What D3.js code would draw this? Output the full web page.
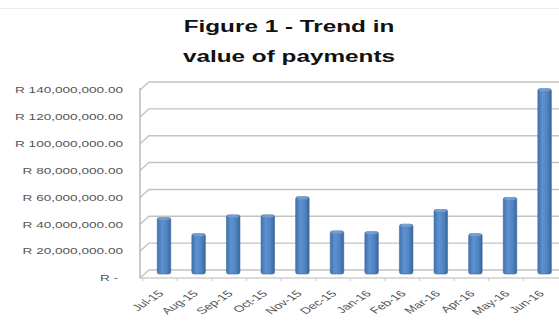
<!DOCTYPE html>
<html>
<head>
<meta charset="utf-8">
<script src="https://cdn.jsdelivr.net/npm/d3@7"></script>
<style>
  html, body { margin: 0; padding: 0; background: #fff; }
  svg { display: block; }
  text { font-family: "Liberation Sans", Arial, sans-serif; }
</style>
</head>
<body>
<svg id="chart" width="559" height="328"></svg>
<script>
// Monthly value of payments (Rand)
const months = ["Jul-15", "Aug-15", "Sep-15", "Oct-15", "Nov-15", "Dec-15",
                "Jan-16", "Feb-16", "Mar-16", "Apr-16", "May-16", "Jun-16"];
const payments = [42e6, 30e6, 44e6, 44e6, 57.5e6, 32e6,
                  31.5e6, 37e6, 48e6, 30e6, 57e6, 138e6];
const yTicks = [0, 20e6, 40e6, 60e6, 80e6, 100e6, 120e6, 140e6];
const yTickLabels = ["R -", "R 20,000,000.00", "R 40,000,000.00", "R 60,000,000.00",
                     "R 80,000,000.00", "R 100,000,000.00", "R 120,000,000.00", "R 140,000,000.00"];
const titleLines = ["Figure 1 - Trend in", "value of payments"];

const W = 559, H = 328;
const svg = d3.select("#chart");
svg.append("rect").attr("width", W).attr("height", H).attr("fill", "#fff");

// faint chart-area border
svg.append("line").attr("x1", 0).attr("x2", W).attr("y1", 8.5).attr("y2", 8.5)
  .attr("stroke", "#ececec").attr("stroke-width", 1);

// 3D box geometry: front plane, and depth offset to the back wall
const leftX = 140, depthX = 9, depthY = -8, rightX = W + 5;
const y = d3.scaleLinear().domain([0, 140e6]).range([278, 90]);
const x = d3.scaleBand().domain(months).range([146.7, 561.9]).paddingInner(0).paddingOuter(0);

// Gridlines: slanted across the side wall, then along the back wall
const grid = svg.append("g").attr("fill", "none").attr("stroke", "#c4c4c4").attr("stroke-width", 1.4);
grid.selectAll("path.g").data(yTicks).join("path")
  .attr("class", "g")
  .attr("d", t => {
    const yf = y(t);
    return `M${leftX},${yf} L${leftX + depthX},${yf + depthY} L${rightX},${yf + depthY}`;
  });
// floor front edge
grid.append("path").attr("d", `M${leftX},${y(0)} L${rightX},${y(0)}`).attr("stroke", "#cfcfcf");
// side wall front edge
grid.append("path").attr("d", `M${leftX},${y(0)} L${leftX},${y(140e6) - 2}`).attr("stroke", "#b4b4b4");

// tick marks along the floor front edge
svg.append("g").attr("stroke", "#c8c8c8").attr("stroke-width", 1)
  .selectAll("line").data(months).join("line")
  .attr("x1", d => x(d) - 4).attr("x2", d => x(d) - 4)
  .attr("y1", y(0)).attr("y2", y(0) + 3);

// Column gradient
const defs = svg.append("defs");
const grad = defs.append("linearGradient").attr("id", "colGrad")
  .attr("x1", "0%").attr("x2", "100%").attr("y1", "0%").attr("y2", "0%");
grad.append("stop").attr("offset", "0%").attr("stop-color", "#4272ad");
grad.append("stop").attr("offset", "35%").attr("stop-color", "#5d91d0");
grad.append("stop").attr("offset", "70%").attr("stop-color", "#5084c0");
grad.append("stop").attr("offset", "100%").attr("stop-color", "#38659b");

// Columns sit half-way into the depth of the box
const midDY = depthY / 2;
const barW = 13.5;
const col = svg.append("g").selectAll("g").data(payments).join("g");
col.append("rect")
  .attr("x", (d, i) => x(months[i]) + x.bandwidth() / 2 - barW / 2)
  .attr("y", d => y(d) + midDY)
  .attr("width", barW)
  .attr("height", d => y(0) - y(d))
  .attr("rx", 2)
  .attr("fill", "url(#colGrad)")
  .attr("stroke", "#3d6a9f").attr("stroke-width", 0.6);
// top face
col.append("rect")
  .attr("x", (d, i) => x(months[i]) + x.bandwidth() / 2 - barW / 2 + 1)
  .attr("y", d => y(d) + midDY - 0.5)
  .attr("width", barW - 2)
  .attr("height", 3)
  .attr("rx", 1.5)
  .attr("fill", "#7aa3d6").attr("opacity", 0.8);

// Y axis labels
svg.append("g").selectAll("text").data(yTicks).join("text")
  .attr("transform", (d, i) => `translate(${i === 0 ? 118 : 123},${y(d)}) scale(1.43,1)`)
  .attr("text-anchor", "end")
  .attr("dy", "0.35em")
  .attr("font-size", "9.5px")
  .attr("fill", "#555")
  .text((d, i) => yTickLabels[i]);

// X axis labels, slanted
svg.append("g").selectAll("text").data(months).join("text")
  .attr("transform", d => `translate(${x(d) + x.bandwidth() / 2 - 3},${y(0) + 14}) scale(1.55,1) rotate(-45)`)
  .attr("text-anchor", "end")
  .attr("dy", "0.35em")
  .attr("font-size", "9px")
  .attr("fill", "#555")
  .text(d => d);

// Title
svg.append("g").selectAll("text").data(titleLines).join("text")
  .attr("transform", (d, i) => `translate(289,${32 + i * 30}) scale(1.43,1)`)
  .attr("text-anchor", "middle")
  .attr("font-size", "17px")
  .attr("font-weight", "bold")
  .attr("fill", "#111")
  .text(d => d);
</script>
</body>
</html>
